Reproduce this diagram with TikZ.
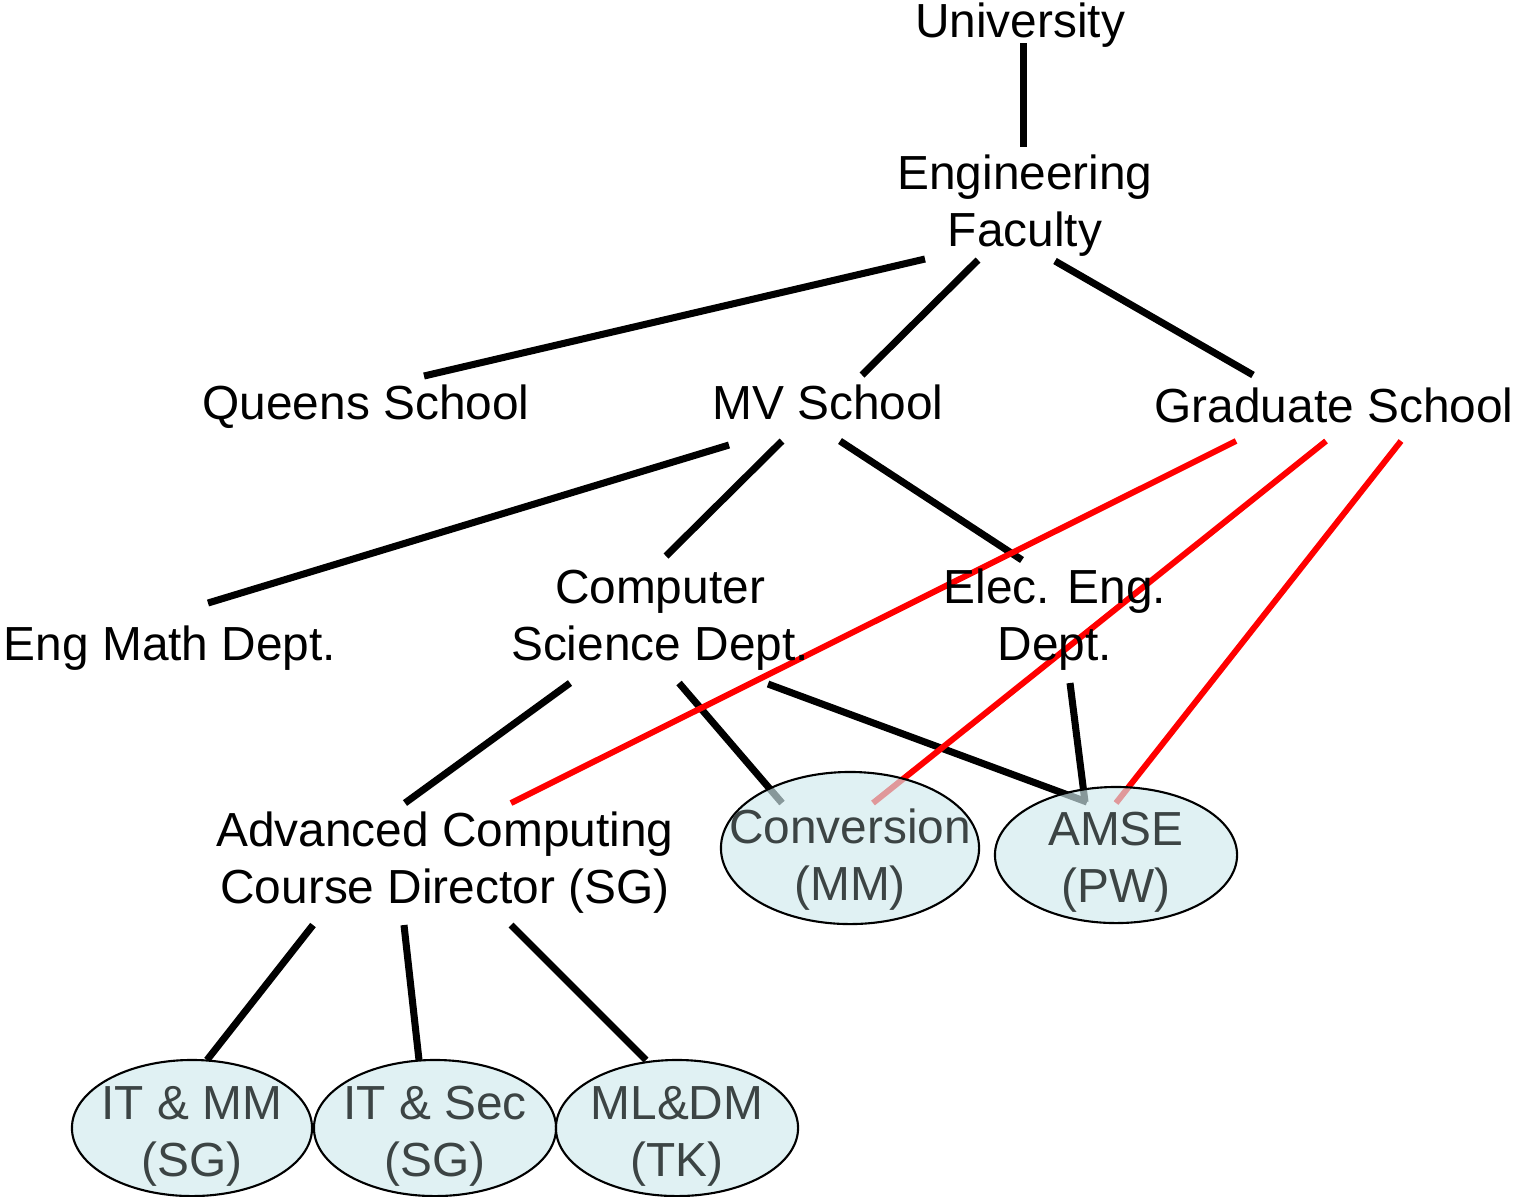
\documentclass[tikz,border=0pt]{standalone}
\usepackage{xcolor}
\usepackage{fontspec}
\setmainfont{Liberation Sans}
\usepackage{tikz}
\usetikzlibrary{shapes, calc, backgrounds}
\definecolor{ovalfill}{RGB}{208,234,237}
\definecolor{ovaltext}{RGB}{60,68,68}
\tikzstyle{unit} = [font=\fontsize{13.6}{16.2}\selectfont, align=center, inner sep=0pt]
\tikzstyle{course} = [ellipse, draw, line width=0.6pt, fill=ovalfill, fill opacity=0.65,
    inner sep=0pt, minimum width=2.42cm, minimum height=1.36cm]
\tikzstyle{coursetext} = [font=\fontsize{13.6}{16.2}\selectfont, align=center, text=ovaltext,
    text opacity=1, inner sep=0pt]
\tikzstyle{line} = [draw, line width=2pt]
\tikzstyle{redline} = [draw, red, line width=1.7pt]

\begin{document}
\begin{tikzpicture}[x=0.01cm, y=-0.01cm]
      \useasboundingbox (0,0) rectangle (1522,1196);
      % Hierarchy
      \node [unit, anchor=base] (university) at (1020,37) {University};
      \node [unit] (faculty) at (1025,206) {Engineering\\Faculty};
      \node [unit, anchor=base] (queens) at (366,419) {Queens School};
      \node [unit, anchor=base] (mv) at (828,419) {MV School};
      \node [unit, anchor=base] (graduate) at (1334,422) {Graduate School};
      \node [unit, anchor=base] (engmath) at (170,660) {Eng Math Dept.};
      \node [unit] (compsci) at (660,620) {Computer\\Science Dept.};
      \node [unit] (eleceng) at (1055,620) {Elec. Eng.\\Dept.};
      \node [unit] (advcomp) at (445,863) {Advanced Computing\\Course Director (SG)};
      % Courses
      \node [course, minimum width=2.58cm, minimum height=1.52cm,
        label={[coursetext, yshift=-0.12cm]center:Conversion\\(MM)}] (conversion) at (850,848) {};
      \node [course,
        label={[coursetext, yshift=-0.07cm]center:AMSE\\(PW)}] (amse) at (1116,855) {};
      \node [course, minimum width=2.4cm,
        label={[coursetext, yshift=-0.08cm]center:IT \& MM\\(SG)}] (itmm) at (192,1128) {};
      \node [course,
        label={[coursetext, yshift=-0.08cm]center:IT \& Sec\\(SG)}] (itsec) at (435,1128) {};
      \node [course,
        label={[coursetext, yshift=-0.08cm]center:ML\&DM\\(TK)}] (mldm) at (677,1128) {};
      % Draw edges
      \begin{scope}[on background layer]
      \path [line] ($(university.base)+(3,6)$) -- ($(faculty)+(-2,-59)$);
      \path [line] ($(faculty)+(-100,53)$) -- ($(queens.base)+(58,-43)$);
      \path [line] ($(faculty)+(-47,54)$) -- ($(mv.base)+(34,-44)$);
      \path [line] ($(faculty)+(30,55)$) -- ($(graduate.base)+(-81,-47)$);
      \path [line] ($(mv.base)+(-99,26)$) -- ($(engmath.base)+(38,-57)$);
      \path [line] ($(mv.base)+(-46,22)$) -- ($(compsci)+(6,-64)$);
      \path [line] ($(mv.base)+(12,22)$) -- ($(eleceng)+(-33,-60)$);
      \path [line] ($(compsci)+(-90,63)$) -- ($(advcomp)+(-40,-60)$);
      \path [line] ($(compsci)+(19,63)$) -- ($(conversion)+(-68,-45)$);
      \path [line] ($(compsci)+(108,64)$) -- ($(amse)+(-29,-53)$);
      \path [line] ($(eleceng)+(15,63)$) -- ($(amse)+(-31,-53)$);
      \path [line] ($(advcomp)+(-132,62)$) -- ($(itmm)+(15,-68)$);
      \path [line] ($(advcomp)+(-41,62)$) -- ($(itsec)+(-16,-68)$);
      \path [line] ($(advcomp)+(66,62)$) -- ($(mldm)+(-31,-68)$);
      \path [redline] ($(graduate.base)+(-98,19)$) -- ($(advcomp)+(66,-60)$);
      \path [redline] ($(graduate.base)+(-8,19)$) -- ($(conversion)+(23,-45)$);
      \path [redline] ($(graduate.base)+(67,19)$) -- ($(amse)+(0,-52)$);
      \end{scope}
\end{tikzpicture}
\end{document}
